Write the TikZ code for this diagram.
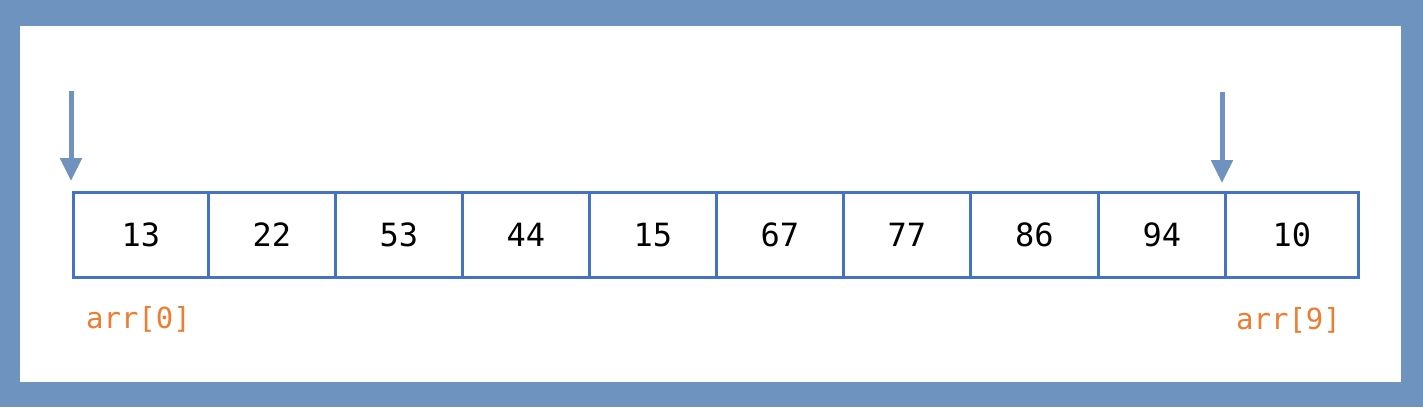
\documentclass[tikz,border=0pt]{standalone}
\usepackage{fontspec}
\newfontfamily\codefont{DejaVu Sans Mono}
\definecolor{frameblue}{HTML}{6F93BF}
\definecolor{cellblue}{HTML}{4472C4}
\definecolor{arrowblue}{HTML}{7092BE}
\definecolor{idxorange}{HTML}{ED7D31}
\usetikzlibrary{arrows.meta}
\begin{document}
\begin{tikzpicture}[x=1pt,y=-1pt,
  cellbox/.style={draw=cellblue,line width=2.6pt,fill=white,minimum height=85pt,inner sep=0pt,anchor=north west,font=\codefont\fontsize{32}{38}\selectfont},
  idx/.style={text=idxorange,font=\codefont\fontsize{29}{34}\selectfont},
  ptr/.style={draw=arrowblue,line width=5pt,-{Triangle[width=21pt,length=23pt]}}]
\useasboundingbox (0,0) rectangle (1423,407);
\fill[frameblue] (0,0) rectangle (1423,407);
\fill[white] (20,26) rectangle (1401,382);
\def\xs{{72,207,334,461,588,715,842,969,1097,1224,1357}}
\foreach \v [count=\i from 0] in {13,22,53,44,15,67,77,86,94,10}{
  \pgfmathsetmacro{\xa}{\xs[\i]}
  \pgfmathsetmacro{\xb}{\xs[\i+1]}
  \pgfmathsetmacro{\w}{\xb-\xa}
  \node[cellbox,minimum width=\w pt] (c\i) at (\xa,191) {\v};
}
\coordinate (p0) at (71,91);
\coordinate (q0) at (71,181);
\coordinate (p9) at (1222,92);
\coordinate (q9) at (1222,183);
\draw[ptr] (p0) -- (q0);
\draw[ptr] (p9) -- (q9);
\node[idx] (l0) at (138.5,319) {arr[0]};
\node[idx] (l9) at (1288.5,320) {arr[9]};
\end{tikzpicture}
\end{document}
